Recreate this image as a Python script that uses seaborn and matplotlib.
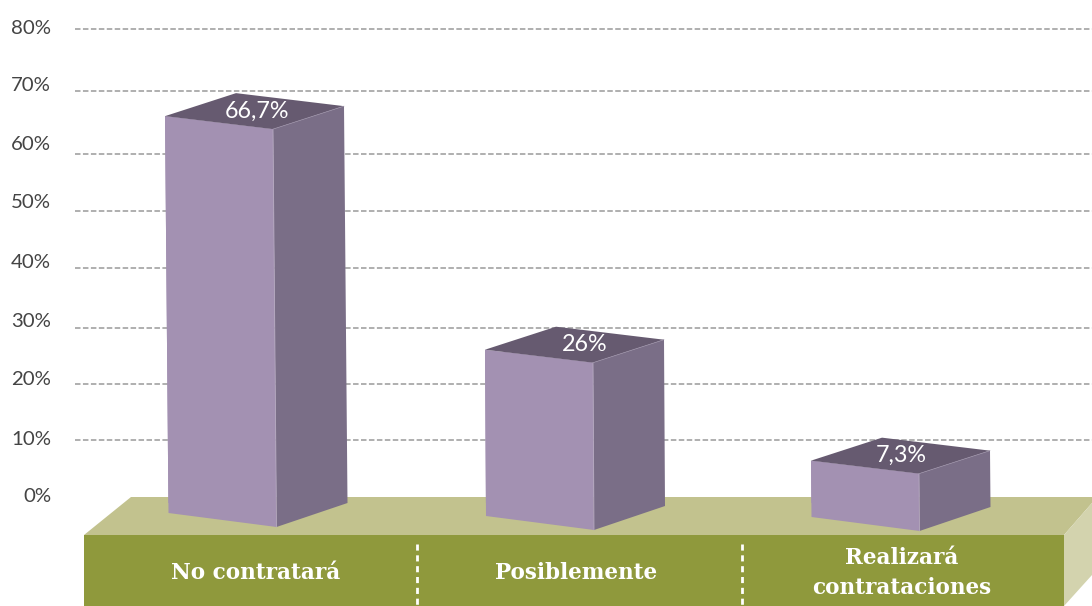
"""Barras 3D sobre plataforma: intención de contratación."""

import matplotlib
matplotlib.use('Agg')
import matplotlib.pyplot as plt
from matplotlib.patches import Polygon
import pandas as pd
import seaborn as sns

CATEGORIES = ['No contratará', 'Posiblemente', 'Realizará\ncontrataciones']
VALUES = [66.7, 26.0, 7.3]
VALUE_LABELS = ['66,7%', '26%', '7,3%']
TICK_LABELS = ['0%', '10%', '20%', '30%', '40%', '50%', '60%', '70%', '80%']

# layout, in pixels
W, H = 1092, 606
X0_PX, X_STEP_PX = 219, 323   # centre of first bar, spacing of categories
Y0_PX, Y_STEP_PX = 503, 5.8   # where value 0 sits, pixels per percent
BAR_W_PX = 108
BAR_NUDGE_PX = [0, -3, 0]
TOP_NUDGE_PX = [0, -2.5, 0]
FOOT_PX = [513, 516, 517]
FOOT_SKEW_PX = [3.5, 1, 0.5]
VALUE_NUDGE_PX = [2, 10, 1]
TICK_Y_PX = [495, 438, 378, 320, 261, 201, 143, 84, 27]
GRID_Y_PX = [440, 384, 328, 268, 211, 154, 91, 28.5]

FRONT = '#A391B2'
SIDE = '#7A6E87'
TOP = '#665A70'
PLAT_TOP = '#C2C28E'
PLAT_FRONT = '#8F993C'
PLAT_SIDE = '#D3D3AE'

sns.set_theme(style='white')
plt.rcParams['font.family'] = ['Lato', 'DejaVu Sans']


def px(x, y):
    return (x - X0_PX) / X_STEP_PX, (Y0_PX - y) / Y_STEP_PX


def add_poly(ax, points, color, zorder, **kwargs):
    poly = Polygon([px(*p) for p in points], closed=True, facecolor=color,
                   edgecolor='none', zorder=zorder, **kwargs)
    ax.add_patch(poly)
    return poly


def to_px(x, y):
    return x * X_STEP_PX + X0_PX, Y0_PX - y * Y_STEP_PX


frame = pd.DataFrame({'categoria': CATEGORIES, 'valor': VALUES})

fig = plt.figure(figsize=(W / 100, H / 100), dpi=100)
ax = fig.add_axes([0, 0, 1, 1])

# plataforma
add_poly(ax, [(84, 535), (131, 497), (W, 497), (W, 503), (1064, 535)], PLAT_TOP, 1)
add_poly(ax, [(84, 535), (1064, 535), (1064, H), (84, H)], PLAT_FRONT, 1)
add_poly(ax, [(1064, 535), (W, 503), (W, 575), (1064, H)], PLAT_SIDE, 1)

for y in GRID_Y_PX:
    xa, ya = px(75, y)
    xb, _ = px(W, y)
    ax.plot([xa, xb], [ya, ya], color='#9A9A9A', lw=1.1, ls=(0, (3.6, 1.6)), zorder=1.2)

sns.barplot(data=frame, x='categoria', y='valor', order=CATEGORIES, color=FRONT,
            saturation=1, width=BAR_W_PX / X_STEP_PX, linewidth=0, zorder=2, ax=ax)

for i, bar in enumerate(ax.patches[-len(VALUES):]):
    bar_x, _ = to_px(bar.get_x(), 0)
    bar_x += BAR_NUDGE_PX[i]
    bar.set_x(px(bar_x, 0)[0])
    _, top = to_px(0, bar.get_height())
    top += TOP_NUDGE_PX[i]
    foot, skew = FOOT_PX[i], FOOT_SKEW_PX[i]

    front = add_poly(ax, [(bar_x, top), (bar_x + BAR_W_PX, top + 13),
                          (bar_x + BAR_W_PX + skew, foot + 14), (bar_x + skew, foot)],
                     FRONT, 2.1)
    bar.set_clip_path(front)
    add_poly(ax, [(bar_x + BAR_W_PX, top + 13), (bar_x + 179, top - 10),
                  (bar_x + 179 + skew, foot - 10), (bar_x + BAR_W_PX + skew, foot + 14)],
             SIDE, 2.2)
    add_poly(ax, [(bar_x, top), (bar_x + 71, top - 23), (bar_x + 179, top - 10),
                  (bar_x + BAR_W_PX, top + 13)], TOP, 2.3)
    # arista clara entre caras
    ex, ey = zip(px(bar_x + BAR_W_PX, top + 13), px(bar_x + BAR_W_PX + skew, foot + 14))
    ax.plot(ex, ey, color='#B5A8C0', lw=0.6, zorder=2.4)
    ex, ey = zip(px(bar_x + BAR_W_PX, top + 13), px(bar_x + 179, top - 10))
    ax.plot(ex, ey, color='#9A8FA6', lw=0.5, zorder=2.4)

    lx, ly = px(bar_x + 89.5 + VALUE_NUDGE_PX[i], top - 5)
    ax.text(lx, ly, VALUE_LABELS[i], color='white', fontsize=16.8, ha='center',
            va='center', zorder=3)

# separadores punteados
for x_sep in [417, 742]:
    xs, ya = px(x_sep, 544)
    _, yb = px(x_sep, H)
    ax.plot([xs, xs], [ya, yb], color='white', lw=2.0, ls=(0, (2.2, 1.7)), zorder=1.5)

xmin, ymax = px(0, 0)
xmax, ymin = px(W, H)
ax.set_xlim(xmin, xmax)
ax.set_ylim(ymin, ymax)

ax.set_xticks([px(X0_PX + i * X_STEP_PX + BAR_NUDGE_PX[i] + 37, 0)[0] for i in range(len(CATEGORIES))])
ax.set_xticklabels(CATEGORIES, family=['DejaVu Serif'], fontweight='bold', fontsize=15.5,
                   color='white', linespacing=1.5)
for label in ax.get_xticklabels():
    label.set_va('center')
ax.tick_params(axis='x', length=0, pad=-(H - 573) * 0.72)

ax.set_yticks([px(0, y)[1] for y in TICK_Y_PX])
ax.set_yticklabels(TICK_LABELS, fontsize=14.7, color='#444444')
ax.tick_params(axis='y', length=0, pad=-51 * 0.72)

ax.set_axisbelow(False)
ax.set_xlabel('')
ax.set_ylabel('')
sns.despine(ax=ax, left=True, bottom=True)
ax.patch.set_visible(False)

fig.savefig('out.png', dpi=100)
plt.close(fig)
